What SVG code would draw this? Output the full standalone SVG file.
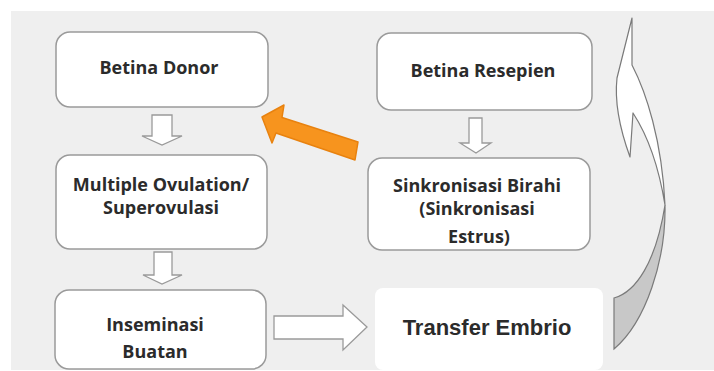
<svg xmlns="http://www.w3.org/2000/svg" width="714" height="371" viewBox="0 0 714 371">
<style>
.box{fill:#fff;stroke:#9a9a9a;stroke-width:1.5}
.t{font-family:"Open Sans","Liberation Sans",sans-serif;font-weight:bold;font-size:18px;fill:#2b2b2b;text-anchor:middle}
.t2{font-family:"Liberation Sans",Arial,sans-serif;font-weight:bold;font-size:22px;fill:#2b2b2b;text-anchor:middle}
.hollow{fill:#fff;stroke:#9a9a9a;stroke-width:1.3}
</style>
<rect x="0" y="0" width="714" height="371" fill="#fff"/>
<rect x="11" y="11" width="703" height="359" fill="#efefef"/>
<g id="connectors">
  <path class="hollow" d="M152,115 L172,115 L172,136 L182,136 L162,145 L142,136 L152,136 Z"/>
  <path class="hollow" d="M154,252 L172,252 L172,275 L182,275 L162,284 L143,275 L154,275 Z"/>
  <path class="hollow" d="M469,118 L482,118 L482,143 L491,143 L476,153 L460,143 L469,143 Z"/>
  <path class="hollow" d="M274,316 L343,316 L343,305 L367,327 L343,350 L343,339 L274,339 Z"/>
  <path d="M262,117 L284,105 L282,117.5 L358,142 L355,160 L276,133 L272,143 Z" fill="#f7941e" stroke="#e8820f" stroke-width="1.5" stroke-linejoin="round"/>
  <path d="M665,205 C666,260 646,322 614,349 L614,298 C636,292 656,262 665,205 Z" fill="#c8c8c8" stroke="#7a7a7a" stroke-width="1.2"/>
  <path d="M632,18 L632,65 C646,92 662,140 665,205 C659,168 648,136 633,113 L630,157 C622,135 614,105 617,78 Z" fill="#fff" stroke="#7a7a7a" stroke-width="1.2" stroke-linejoin="round"/>
</g>
<g id="betina-donor">
  <rect class="box" x="56" y="32" width="212" height="75" rx="14"/>
  <text class="t" x="159" y="74">Betina Donor</text>
</g>
<g id="multiple-ovulation">
  <rect class="box" x="56" y="155" width="211" height="94" rx="14"/>
  <text class="t" x="161" y="191">Multiple Ovulation/</text>
  <text class="t" x="161" y="214">Superovulasi</text>
</g>
<g id="inseminasi-buatan">
  <rect class="box" x="55" y="290" width="211" height="79" rx="14"/>
  <text class="t" x="155" y="331">Inseminasi</text>
  <text class="t" x="155" y="358">Buatan</text>
</g>
<g id="betina-resepien">
  <rect class="box" x="377" y="33" width="215" height="77" rx="14"/>
  <text class="t" x="483" y="77">Betina Resepien</text>
</g>
<g id="sinkronisasi-birahi">
  <rect class="box" x="368" y="158" width="222" height="92" rx="14"/>
  <text class="t" x="477" y="192">Sinkronisasi Birahi</text>
  <text class="t" x="477" y="215">(Sinkronisasi</text>
  <text class="t" x="479" y="243">Estrus)</text>
</g>
<g id="transfer-embrio">
  <rect x="375" y="288" width="228" height="82" rx="8" fill="#fff"/>
  <text class="t2" x="487" y="335">Transfer Embrio</text>
</g>
</svg>
